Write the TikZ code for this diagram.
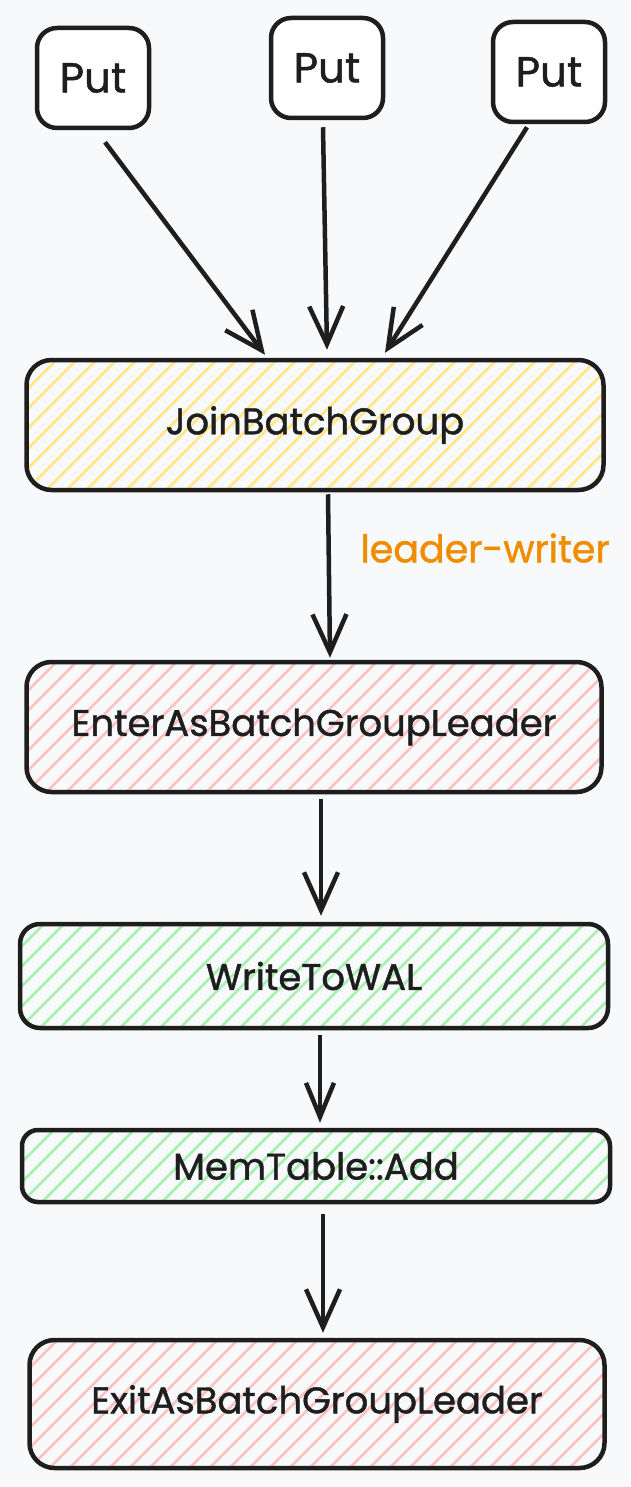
\documentclass[tikz,border=0pt]{standalone}
\usepackage{fontspec}
\setmainfont{Poppins}[UprightFeatures={FakeBold=1.2}]
\usetikzlibrary{arrows.meta,calc}
\definecolor{bg}{HTML}{F8F9FA}
\definecolor{ink}{HTML}{1E1E1E}
\definecolor{hy}{HTML}{FFE788}
\definecolor{hr}{HTML}{FFC2C2}
\definecolor{hg}{HTML}{A8EFB2}
\definecolor{orng}{HTML}{F08C00}
\tikzset{
  box/.style={draw=ink, line width=4.5pt, rounded corners=22pt, inner sep=0pt,
    font=\fontsize{37}{42}\selectfont, text=ink},
  putbox/.style={box, fill=white, minimum width=112pt, minimum height=100pt, rounded corners=20pt,
    font=\fontsize{42}{46}\selectfont},
  hatch/.style={path picture={
    \foreach \k in {-200,-180,...,700}{
      \draw[#1, line width=2.6pt] ($(path picture bounding box.south west)+(\k pt,0pt)$) -- ++(200pt,200pt);
    }}},
  arr/.style={draw=ink, line width=4.5pt, -{Straight Barb[length=38pt,width=34pt]}},
  lbl/.style={text=orng, font=\fontsize{38}{42}\selectfont, inner sep=0pt},
}
\begin{document}
\begin{tikzpicture}[x=1pt,y=-1pt]
\fill[bg] (0,0) rectangle (630,1487);
\useasboundingbox (0,0) rectangle (630,1487);

\node[putbox] (p1) at (93,78) {Put};
\node[putbox] (p2) at (327,68) {Put};
\node[putbox] (p3) at (549,72) {Put};

\node[box, hatch=hy, minimum width=577pt, minimum height=130pt, rounded corners=25pt] (join) at (315,425) {JoinBatchGroup};
\node[box, hatch=hr, minimum width=575pt, minimum height=130pt, rounded corners=25pt] (enter) at (314,727) {EnterAsBatchGroupLeader};
\node[box, hatch=hg, minimum width=588pt, minimum height=104pt, rounded corners=20pt] (wal) at (314,976) {WriteToWAL};
\node[box, hatch=hg, minimum width=588pt, minimum height=72pt, rounded corners=16pt] (mem) at (316,1166) {MemTable::Add};
\node[box, hatch=hr, minimum width=575pt, minimum height=128pt, rounded corners=25pt] (exit) at (317,1404) {ExitAsBatchGroupLeader};

\node[lbl] (lw) at (485,548) {leader-writer};

\draw[arr] ($(p1.south)+(12,12)$) -- ($(join.north)+(-50,-3)$);
\draw[arr] ($(p2.south)+(-4,7)$) -- ($(join.north)+(12,-8)$);
\draw[arr] ($(p3.south)+(-22,3)$) -- ($(join.north)+(70,-5)$);
\draw[arr] ($(join.south)+(13,2)$) -- ($(enter.north)+(16,-2)$);
\draw[arr] ($(enter.south)+(7,5)$) -- ($(wal.north)+(7,-6)$);
\draw[arr, -{Straight Barb[length=34pt,width=28pt]}] ($(wal.south)+(6,5)$) -- ($(mem.north)+(4,-5)$);
\draw[arr] ($(mem.south)+(7,10)$) -- ($(exit.north)+(6,-5)$);
\end{tikzpicture}
\end{document}
